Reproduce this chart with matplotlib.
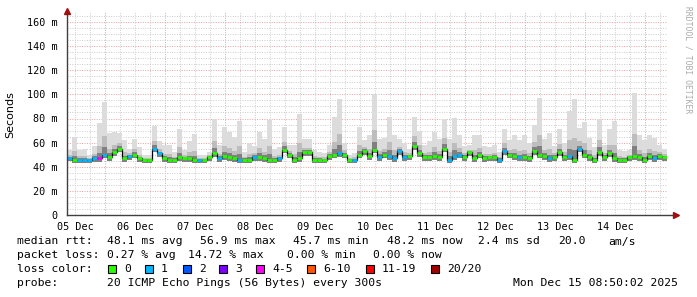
import matplotlib
matplotlib.use('Agg')
import matplotlib.pyplot as plt

# 2-hour buckets starting Mon Dec 05 08:50
median_ms = [47.5, 46, 46, 46, 46, 47, 47, 50, 48, 52, 55, 47, 49, 50, 47, 46, 46, 55, 51, 47, 46, 46, 48, 47,
             47, 46, 46, 46, 48, 51, 47, 49, 48, 47, 46, 46, 46, 48, 48, 47, 46, 46, 47, 54, 50, 46, 47, 52,
             52, 46, 46, 46, 49, 50, 51, 50, 46, 46, 50, 53, 49, 54, 48, 50, 49, 47, 53, 48, 49, 57, 51, 48,
             48, 49, 48, 55, 46, 49, 50, 48, 52, 47, 50, 47, 48, 48, 46, 53, 50, 49, 48, 48, 47, 53, 50, 49,
             47, 48, 52, 48, 49, 46, 55, 50, 48, 46, 52, 48, 51, 47, 46, 46, 48, 49, 48, 46, 49, 47, 49, 48]
smoke_top = [54, 65, 54, 55, 50, 57, 76, 94, 68, 69, 68, 62, 55, 63, 56, 50, 50, 74, 61, 58, 58, 52, 71, 54,
             61, 67, 50, 50, 52, 80, 58, 73, 69, 65, 78, 52, 60, 57, 69, 63, 79, 55, 56, 73, 58, 58, 84, 63,
             63, 54, 52, 51, 58, 81, 96, 60, 50, 51, 73, 62, 66, 100, 63, 64, 81, 66, 63, 60, 55, 81, 70, 58,
             61, 69, 63, 80, 63, 80, 66, 57, 58, 66, 66, 57, 56, 58, 52, 71, 62, 66, 62, 66, 60, 75, 97, 63,
             68, 57, 71, 60, 86, 96, 72, 77, 64, 56, 80, 58, 71, 78, 54, 53, 54, 101, 66, 62, 66, 64, 58, 55]
lost_pings = [1, 0, 1, 1, 1, 1, 4, 1, 0, 0, 0, 0, 1, 0, 0, 0, 0, 1, 1, 0, 0, 0, 0, 0,
              0, 0, 1, 0, 0, 0, 1, 0, 0, 0, 1, 0, 0, 1, 0, 0, 0, 0, 1, 0, 0, 0, 0, 0,
              0, 0, 0, 0, 0, 0, 1, 0, 0, 1, 0, 0, 0, 0, 1, 0, 1, 1, 1, 1, 0, 0, 0, 0,
              0, 0, 0, 0, 1, 1, 1, 0, 0, 0, 0, 0, 0, 0, 1, 1, 0, 0, 1, 0, 0, 0, 0, 0,
              1, 0, 0, 0, 1, 0, 1, 0, 0, 0, 0, 0, 0, 0, 0, 0, 0, 0, 0, 0, 0, 1, 0, 0]
day_labels = ['05 Dec', '06 Dec', '07 Dec', '08 Dec', '09 Dec', '10 Dec', '11 Dec', '12 Dec', '13 Dec', '14 Dec']
y_ticks = [0, 20, 40, 60, 80, 100, 120, 140, 160]

loss_colors = {0: '#26ff00', 1: '#00b8ff', 2: '#0059ff', 3: '#7e00ff', 4: '#ff00ff',
               6: '#ff5500', 11: '#ff0000', 20: '#a10000'}

W, H = 697, 297
fig = plt.figure(figsize=(W / 100, H / 100), dpi=100)
fig.patch.set_facecolor('white')

x0, x1 = 67, 667
ybot, ytop_px = 215, 12.4
ymax = (ybot - ytop_px) / (193 / 160)
ax = fig.add_axes([x0 / W, (H - ybot) / H, (x1 - x0) / W, (ybot - ytop_px) / H])
ax.set_xlim(0, 240)
ax.set_ylim(0, ymax)
for s in ax.spines.values():
    s.set_visible(False)

# grid
start_off = 15 + 10 / 60.0  # hours to first midnight
h = start_off - 18
while h < 240:
    if h > 0:
        if abs((h - start_off) % 24) < 1e-6:
            ax.axvline(h, color='#e8a0a0', lw=0.7, ls=(0, (1, 1.5)), zorder=0)
        else:
            ax.axvline(h, color='#cccccc', lw=0.7, ls=(0, (1, 1.5)), zorder=0)
    h += 6
for v in range(5, int(ymax) + 1, 5):
    c = '#e8a0a0' if v % 20 == 0 else '#cccccc'
    ax.axhline(v, color=c, lw=0.7, ls=(0, (1, 1.5)), zorder=0)

# smoke
n = len(median_ms)
xs = [2 * i for i in range(n)]
lo = [m - 3 for m in median_ms]
ax.bar(xs, [t - l for t, l in zip(smoke_top, lo)], bottom=lo, width=2, align='edge',
       color='#dcdcdc', lw=0, zorder=1)
mid = [m + 0.35 * (t - m) for m, t in zip(median_ms, smoke_top)]
ax.bar(xs, [a - l for a, l in zip(mid, lo)], bottom=lo, width=2, align='edge',
       color='#bdbdbd', lw=0, zorder=1)
dark = [m + 0.15 * (t - m) for m, t in zip(median_ms, smoke_top)]
ax.bar(xs, [a - l for a, l in zip(dark, lo)], bottom=lo, width=2, align='edge',
       color='#808080', lw=0, zorder=1)

# median line
ax.step(xs + [240], median_ms + [median_ms[-1]], where='post', color='black', lw=0.9, zorder=2)
ax.hlines(median_ms, xs, [x + 2 for x in xs], colors=[loss_colors[l] for l in lost_pings],
          lw=1.9, zorder=3)

# axes lines + arrows
ax.plot([0, 0], [0, ymax], color='#404040', lw=1, clip_on=False, zorder=4)
ax.plot([0, 243], [0, 0], color='#404040', lw=1, clip_on=False, zorder=4)
ax.plot([0], [ymax + 1.5], marker='^', color='#a01010', ms=4, clip_on=False, zorder=5)
ax.plot([243.5], [0], marker='>', color='#a01010', ms=4, clip_on=False, zorder=5)

mono = 'DejaVu Sans Mono'
ax.set_yticks(y_ticks)
ax.set_yticklabels(['0' if v == 0 else '%d m' % v for v in y_ticks], family=mono, fontsize=7.3)
noons = [start_off - 12 + 24 * k for k in range(len(day_labels))]
ax.set_xticks(noons)
ax.set_xticklabels(day_labels, family=mono, fontsize=7.3)
ax.tick_params(length=0, pad=5)
ax.tick_params(axis='y', pad=7)

def t(x, y, s, **kw):
    kw.setdefault('family', mono)
    kw.setdefault('fontsize', 8.2)
    fig.text(x / W, 1 - y / H, s, va='center', ha=kw.pop('ha', 'left'), **kw)

t(10, 115, 'Seconds', family='DejaVu Sans', rotation=90, ha='center', fontsize=8)
t(688, 60, 'RRDTOOL / TOBI OETIKER', rotation=270, ha='center', fontsize=5.8, color='#aaaaaa')

t(17, 241.5, 'median rtt:')
t(107, 241.5, '48.1 ms avg')
t(200, 241.5, '56.9 ms max')
t(293, 241.5, '45.7 ms min')
t(387, 241.5, '48.2 ms now')
t(478, 241.5, '2.4 ms sd')
t(558, 241.5, '20.0')
t(608, 241.5, 'am/s')

t(17, 255.3, 'packet loss:')
t(107, 255.3, '0.27 % avg')
t(188, 255.3, '14.72 % max')
t(287, 255.3, '0.00 % min')
t(373, 255.3, '0.00 % now')

t(17, 269, 'loss color:')
legend_items = [('0', 0, 108), ('1', 1, 145), ('2', 2, 183), ('3', 3, 219), ('4-5', 4, 256),
                ('6-10', 6, 307), ('11-19', 11, 366), ('20/20', 20, 431)]
for lab, key, bx in legend_items:
    fig.patches.append(plt.Rectangle((bx / W, 1 - 273 / H), 8 / W, 8 / H, transform=fig.transFigure,
                                     facecolor=loss_colors[key], edgecolor='black', lw=0.8))
    t(bx + 16, 269, lab)

t(17, 282.8, 'probe:')
t(107, 282.8, '20 ICMP Echo Pings (56 Bytes) every 300s')
t(513, 282.8, 'Mon Dec 15 08:50:02 2025')

fig.savefig('out.png', dpi=100, facecolor='white')
